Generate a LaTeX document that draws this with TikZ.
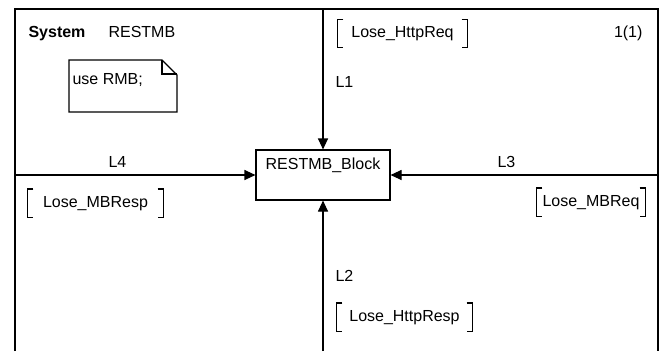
\documentclass[tikz,border=0pt]{standalone}
\usepackage{fontspec}
\setmainfont{Liberation Sans}
\usetikzlibrary{arrows.meta}
\usetikzlibrary{positioning}
\tikzset{>={Triangle[length=11pt,width=10pt]}}
\tikzstyle{blk}=[draw,rectangle,minimum width=134pt,minimum height=50pt,inner sep=0pt]
\tikzstyle{sig}=[rectangle,minimum height=27pt,inner sep=0pt,text height=11pt,text depth=3pt]
\tikzstyle{lbl}=[inner sep=0pt,anchor=west,text height=11pt,text depth=3pt]
\tikzstyle{chan}=[->]
\newcommand{\sigbrackets}[1]{%
  \draw ([xshift=6pt]#1.north west) -- (#1.north west) -- (#1.south west) -- ++(6pt,0);
  \draw ([xshift=-6pt]#1.north east) -- (#1.north east) -- (#1.south east) -- ++(-6pt,0);
}

\begin{document}
\begin{tikzpicture}[x=1pt,y=-1pt,line width=1.1pt,font=\fontsize{16}{18}\selectfont]
  \useasboundingbox (0,0) rectangle (663,351);
  % frame, open at the bottom
  \draw (15,351) -- (15,9) -- (658,9) -- (658,351);
  \node[lbl] (sys) at (28,33) {\textbf{System}};
  \node[lbl] (sysname) at (108,33) {RESTMB};
  \node[lbl,anchor=east] (page) at (643,33) {1(1)};

  % text symbol
  \draw (69,60) -- (162,60) -- (177,75) -- (177,112) -- (69,112) -- cycle;
  \draw (162,60) -- (162,74) -- (177,74);
  \node[lbl] (decl) at (72,80) {use RMB;};

  % the block
  \node[blk] (block) at (323,175) {};
  \node[below=8pt of block.north,lbl,anchor=north] (blkname) {RESTMB\_Block};

  % channels
  \coordinate (top) at (323,9);
  \coordinate (bot) at (323,351);
  \coordinate (lft) at (15,175);
  \coordinate (rgt) at (658,175);
  \draw[chan] (top) -- (block.north);
  \draw[chan] (bot) -- (block.south);
  \draw[chan] (lft) -- (block.west);
  \draw[chan] (rgt) -- (block.east);
  \node[lbl] (l1) at (335,83) {L1};
  \node[lbl] (l2) at (335,277) {L2};
  \node[lbl] (l3) at (497,163) {L3};
  \node[lbl] (l4) at (108,163) {L4};

  % signal lists
  \node[sig,minimum width=129pt] (httpreq) at (402.5,33.5) {Lose\_HttpReq};
  \node[sig,minimum width=135pt] (mbresp) at (95.5,203) {Lose\_MBResp};
  \node[sig,minimum width=108pt] (mbreq) at (591,202) {Lose\_MBReq};
  \node[sig,minimum width=135pt] (httpresp) at (404.5,317) {Lose\_HttpResp};
  \sigbrackets{httpreq}
  \sigbrackets{mbresp}
  \sigbrackets{mbreq}
  \sigbrackets{httpresp}
\end{tikzpicture}
\end{document}
